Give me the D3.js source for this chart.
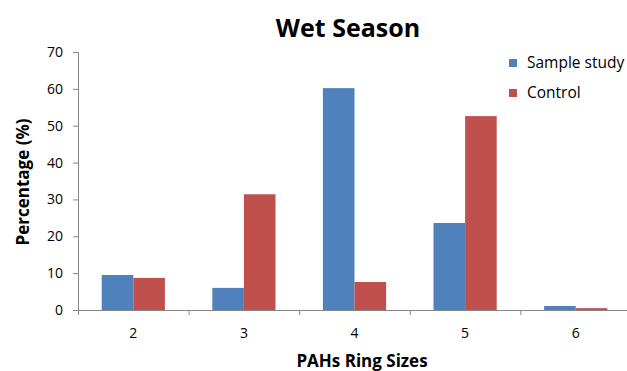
<!DOCTYPE html>
<html>
<head>
<meta charset="utf-8">
<script src="https://cdn.jsdelivr.net/npm/d3@7"></script>
<style>
  body { margin: 0; background: #fff; }
  svg { display: block; font-family: "Open Sans", sans-serif; }
</style>
</head>
<body>
<svg class="chart"></svg>
<script>
let width = 627
let height = 371

const categories = ["2", "3", "4", "5", "6"]
const series_names = ["Sample study", "Control"]
const sample_study = [9.5, 6.0, 60.2, 23.6, 1.1]
const control = [8.7, 31.4, 7.6, 52.6, 0.5]
const y_ticks = [0, 10, 20, 30, 40, 50, 60, 70]
const colors = ["#4F81BD", "#C0504D"]

const margin = {top: 52, left: 78, right: -4, bottom: 61}

var svg = d3.select(".chart")
    .attr("width", width)
    .attr("height", height)

let data = categories.map((c, i) => {
    return {cat: c, values: [sample_study[i], control[i]]}
})

// Scales
let xScale = d3.scaleBand()
    .domain(categories)
    .range([margin.left, width - margin.right])
    .paddingInner(0)
    .paddingOuter(0)

let xInner = d3.scaleBand()
    .domain(series_names)
    .range([0, xScale.bandwidth()])
    .paddingInner(0)
    .paddingOuter(0.75)

let yScale = d3.scaleLinear()
    .domain([0, 70])
    .range([height - margin.bottom, margin.top])

// Bars
svg.append("g")
    .selectAll("g.cat")
    .data(data)
    .enter()
    .append("g")
    .classed("cat", true)
    .attr("transform", d => `translate(${xScale(d.cat)}, 0)`)
    .selectAll("rect")
    .data(d => d.values.map((v, i) => ({name: series_names[i], value: v, i: i})))
    .enter()
    .append("rect")
    .attr("x", d => xInner(d.name))
    .attr("width", xInner.bandwidth())
    .attr("y", d => yScale(d.value))
    .attr("height", d => yScale(0) - yScale(d.value))
    .attr("fill", d => colors[d.i])

// Y axis
let yAxis = svg.append("g")
    .attr("transform", `translate(${margin.left}, 0)`)
    .call(d3.axisLeft(yScale).tickValues(y_ticks).tickSize(5).tickPadding(5))
yAxis.selectAll("path, line").attr("stroke", "#868686")
yAxis.selectAll("text")
    .style("font-size", "14px")
    .style("font-family", "Open Sans, sans-serif")
    .attr("fill", "#000")
    .attr("dx", "-5")

// X axis
let xAxis = svg.append("g")
    .attr("transform", `translate(0, ${yScale(0)})`)
    .call(d3.axisBottom(xScale).tickSize(0).tickSizeOuter(0).tickPadding(18))
xAxis.select("path").attr("stroke", "#868686")
xAxis.selectAll("text")
    .style("font-size", "14px")
    .style("font-family", "Open Sans, sans-serif")
    .attr("fill", "#000")

// boundary ticks between categories
xAxis.selectAll("line.sep")
    .data(categories)
    .enter()
    .append("line")
    .classed("sep", true)
    .attr("x1", d => xScale(d) + 0.5)
    .attr("x2", d => xScale(d) + 0.5)
    .attr("y1", 0)
    .attr("y2", 5)
    .attr("stroke", "#868686")

// Title
svg.append("text")
    .attr("x", 348)
    .attr("y", 37)
    .attr("text-anchor", "middle")
    .style("font-size", "25px")
    .style("font-weight", "bold")
    .text("Wet Season")

// Axis titles
svg.append("text")
    .attr("transform", "translate(29, 182) rotate(-90)")
    .attr("text-anchor", "middle")
    .style("font-size", "17px")
    .style("font-weight", "bold")
    .text("Percentage (%)")

svg.append("text")
    .attr("x", 362)
    .attr("y", 367)
    .attr("text-anchor", "middle")
    .style("font-size", "17px")
    .style("font-weight", "bold")
    .text("PAHs Ring Sizes")

// Legend
let legend = svg.append("g")
    .selectAll("g.legend")
    .data(series_names)
    .enter()
    .append("g")
    .classed("legend", true)
    .attr("transform", (d, i) => `translate(509, ${59 + i * 30})`)

legend.append("rect")
    .attr("width", 8)
    .attr("height", 8)
    .attr("fill", (d, i) => colors[i])

legend.append("text")
    .attr("x", 18)
    .attr("y", 9)
    .style("font-size", "15.5px")
    .text(d => d)
</script>
</body>
</html>
